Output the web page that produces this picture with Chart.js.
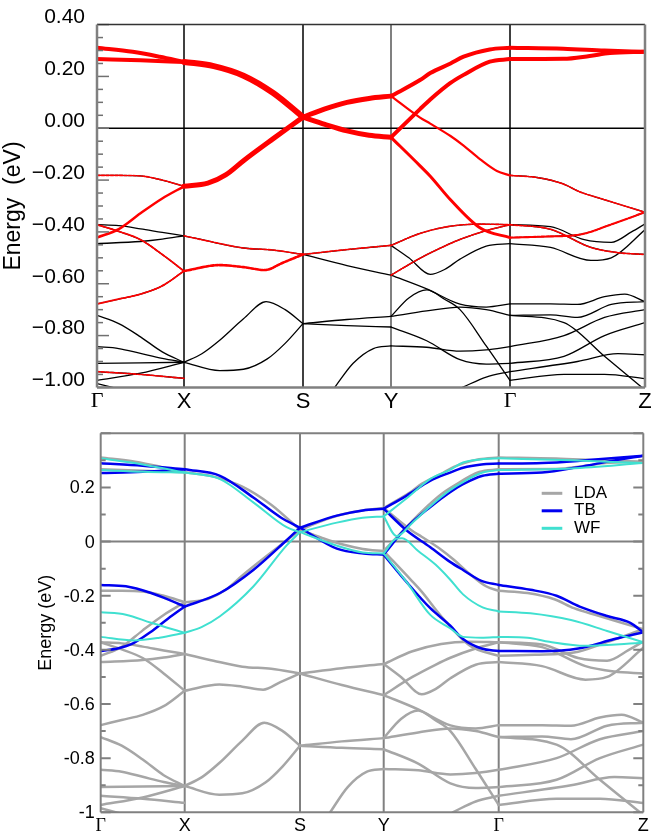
<!DOCTYPE html>
<html>
<head>
<meta charset="utf-8">
<title>Band structure</title>
<script src="https://cdn.jsdelivr.net/npm/chart.js@4.4.1/dist/chart.umd.min.js"></script>
<style>
  body { margin: 0; background: #fff; }
  canvas { position: absolute; left: 0; }
  #topChart { top: 0; }
  #bottomChart { top: 412px; }
</style>
</head>
<body>
<canvas id="topChart" width="654" height="412"></canvas>
<canvas id="bottomChart" width="654" height="423"></canvas>
<script>
// high-symmetry path
const kLabels = ['Γ', 'X', 'S', 'Y', 'Γ', 'Z'];
const kTop = [0, 87, 206, 294, 413, 548];
const kBottom = [0, 84, 199.3, 283, 398, 542.6];

const yTicksTop = [-1.0, -0.8, -0.6, -0.4, -0.2, 0.0, 0.2, 0.4];
const yTicksBottom = [-1, -0.8, -0.6, -0.4, -0.2, 0, 0.2];

const seriesNames = ['LDA', 'TB', 'WF'];

// bands are lists of [s, E]; s = path position (0 = Γ, 1 = X, 2 = S, 3 = Y, 4 = Γ, 5 = Z)
// LDA bands close to the Fermi level (fat bands in the upper panel)
const ldaNear = [
    [[0, 0.311], [0.41, 0.295], [0.72, 0.276], [1, 0.256]],
    [[0, 0.267], [0.5, 0.262], [1, 0.256]],
    [[0, -0.182], [0.25, -0.182], [0.5, -0.184], [0.75, -0.200], [1, -0.224]],
    [[0, -0.422], [0.25, -0.389], [0.5, -0.328], [0.75, -0.271], [1, -0.224]],
    [[1, 0.256], [1.25, 0.240], [1.5, 0.203], [1.75, 0.136], [2, 0.043]],
    [[1, -0.224], [1.2, -0.212], [1.35, -0.18], [1.5, -0.125], [1.75, -0.04], [2, 0.043]],
    [[2, 0.043], [2.25, 0.075], [2.5, 0.100], [2.75, 0.115], [3, 0.124]],
    [[2, 0.043], [2.25, 0.015], [2.5, -0.010], [2.75, -0.027], [3, -0.035]],
    [[3, 0.124], [3.244, 0.186], [3.33, 0.213], [3.5, 0.25], [3.61, 0.276], [3.83, 0.304], [4, 0.311]],
    [[3, -0.035], [3.244, 0.074], [3.33, 0.111], [3.5, 0.175], [3.61, 0.206], [3.83, 0.257], [4, 0.267]],
    [[3, 0.124], [3.244, 0.041], [3.33, 0.018], [3.5, -0.03], [3.61, -0.067], [3.75, -0.12], [3.89, -0.165], [4, -0.182]],
    [[3, -0.035], [3.244, -0.145], [3.33, -0.185], [3.5, -0.276], [3.75, -0.385], [4, -0.422]],
    [[4, 0.311], [4.395, 0.307], [4.7, 0.300], [5, 0.295]],
    [[4, 0.267], [4.395, 0.268], [4.59, 0.279], [4.74, 0.290], [5, 0.295]],
    [[4, -0.182], [4.2, -0.19], [4.39, -0.214], [4.52, -0.246], [4.69, -0.274], [4.85, -0.30], [5, -0.324]],
    [[4, -0.422], [4.25, -0.418], [4.52, -0.41], [4.74, -0.373], [5, -0.324]]
];
// orbital weight of each near band (upper panel)
const ldaNearWeight = [4, 4, 1, 2.5, 6, 5, 5, 5, 4, 4, 2.2, 3, 4, 4, 1, 1.5];

// deeper LDA bands
const ldaDeep = [
    // Γ–X
    [[0, -0.372], [0.25, -0.376], [0.5, -0.388], [0.75, -0.402], [1, -0.415]],
    [[0, -0.372], [0.25, -0.398], [0.5, -0.430], [0.75, -0.487], [1, -0.551]],
    [[0, -0.445], [0.5, -0.437], [0.75, -0.428], [1, -0.415]],
    [[0, -0.678], [0.25, -0.659], [0.5, -0.640], [0.75, -0.608], [1, -0.551]],
    [[0, -0.722], [0.25, -0.754], [0.5, -0.805], [0.75, -0.863], [1, -0.903]],
    [[0, -0.843], [0.25, -0.850], [0.5, -0.869], [0.75, -0.888], [1, -0.903]],
    [[0, -0.907], [0.5, -0.905], [1, -0.903]],
    [[0, -0.939], [0.5, -0.95], [1, -0.965]],
    [[0, -0.973], [0.5, -0.945], [1, -0.903]],
    [[0, -0.985], [0.3, -1.01]],
    // X–S
    [[1, -0.415], [1.25, -0.44], [1.5, -0.462], [1.75, -0.470], [2, -0.487]],
    [[1, -0.551], [1.3, -0.528], [1.5, -0.536], [1.68, -0.547], [1.83, -0.519], [2, -0.487]],
    [[1, -0.903], [1.15, -0.87], [1.3, -0.818], [1.5, -0.735], [1.69, -0.669], [1.85, -0.70], [2, -0.754]],
    [[1, -0.903], [1.3, -0.935], [1.5, -0.93], [1.7, -0.89], [1.85, -0.83], [2, -0.754]],
    // S–Y
    [[2, -0.487], [2.5, -0.468], [3, -0.452]],
    [[2, -0.487], [2.5, -0.53], [3, -0.567]],
    [[2, -0.754], [2.5, -0.738], [3, -0.726]],
    [[2, -0.754], [2.5, -0.762], [3, -0.767]],
    [[2.36, -1.0], [2.57, -0.907], [2.8, -0.850], [3, -0.840]],
    // Y–Γ
    [[3, -0.452], [3.25, -0.405], [3.5, -0.378], [3.75, -0.370], [4, -0.372]],
    [[3, -0.452], [3.15, -0.5], [3.33, -0.564], [3.45, -0.545], [3.58, -0.505], [3.8, -0.455], [4, -0.445]],
    [[3, -0.567], [3.25, -0.50], [3.45, -0.455], [3.58, -0.429], [3.8, -0.395], [4, -0.372]],
    [[3, -0.567], [3.3, -0.62], [3.58, -0.679], [3.8, -0.69], [4, -0.678]],
    [[3, -0.726], [3.15, -0.655], [3.3, -0.624], [3.45, -0.66], [3.58, -0.70], [3.8, -0.84], [4, -0.973]],
    [[3, -0.726], [3.3, -0.705], [3.58, -0.69], [3.8, -0.70], [4, -0.722]],
    [[3, -0.767], [3.3, -0.82], [3.58, -0.893], [3.8, -0.91], [4, -0.907]],
    [[3, -0.840], [3.3, -0.845], [3.58, -0.86], [3.8, -0.855], [4, -0.843]],
    [[3.6, -1.0], [3.8, -0.96], [4, -0.939]],
    // Γ–Z
    [[4, -0.372], [4.3, -0.38], [4.55, -0.43], [4.75, -0.44], [4.9, -0.40], [5, -0.369]],
    [[4, -0.372], [4.3, -0.39], [4.6, -0.46], [4.8, -0.48], [5, -0.487]],
    [[4, -0.445], [4.3, -0.46], [4.6, -0.51], [4.75, -0.50], [5, -0.392]],
    [[4, -0.678], [4.3, -0.678], [4.5, -0.68], [4.7, -0.65], [4.85, -0.64], [5, -0.669]],
    [[4, -0.722], [4.3, -0.72], [4.5, -0.73], [4.75, -0.68], [5, -0.669]],
    [[4, -0.843], [4.4, -0.80], [4.7, -0.73], [5, -0.70]],
    [[4, -0.907], [4.4, -0.88], [4.7, -0.80], [5, -0.75]],
    [[4, -0.939], [4.5, -0.90], [4.8, -0.87], [5, -0.874]],
    [[4, -0.973], [4.4, -0.95], [4.7, -0.95], [5, -0.966]],
    [[4, -0.722], [4.4, -0.75], [4.7, -0.88], [5, -1.01]]
];
// deep bands that carry a small red weight in the upper panel, and that weight
const ldaDeepRed = [1, 3, 7, 10, 11, 14, 19, 21, 29];
const ldaDeepRedWeight = [1.8, 1.8, 1.6, 1.6, 2.6, 1.6, 1.6, 1.6, 1.6];

// tight-binding bands
const tbBands = [
    [[0, 0.289], [0.5, 0.28], [1, 0.267]],
    [[0, 0.253], [0.5, 0.258], [1, 0.267]],
    [[0, -0.160], [0.3, -0.165], [0.6, -0.19], [0.85, -0.22], [1, -0.24]],
    [[0, -0.404], [0.2, -0.395], [0.39, -0.375], [0.59, -0.335], [0.8, -0.285], [1, -0.24]],
    [[1, 0.267], [1.306, 0.243], [1.595, 0.163], [1.83, 0.09], [2, 0.051]],
    [[1, -0.24], [1.306, -0.19], [1.595, -0.105], [1.884, 0.005], [2, 0.051]],
    [[2, 0.051], [2.44, 0.096], [2.75, 0.115], [3, 0.121]],
    [[2, 0.051], [2.44, -0.026], [2.76, -0.044], [3, -0.048]],
    [[3, 0.121], [3.2, 0.17], [3.403, 0.224], [3.577, 0.255], [3.69, 0.273], [3.85, 0.285], [4, 0.288]],
    [[3, -0.048], [3.2, 0.053], [3.403, 0.127], [3.577, 0.182], [3.69, 0.212], [3.86, 0.243], [4, 0.251]],
    [[3, 0.121], [3.2, 0.041], [3.403, -0.02], [3.577, -0.075], [3.69, -0.105], [3.85, -0.145], [4, -0.160]],
    [[3, -0.048], [3.2, -0.15], [3.403, -0.245], [3.577, -0.31], [3.69, -0.36], [3.85, -0.395], [4, -0.404]],
    [[4, 0.288], [4.3, 0.29], [4.6, 0.30], [5, 0.317]],
    [[4, 0.251], [4.3, 0.255], [4.55, 0.275], [4.8, 0.30], [5, 0.317]],
    [[4, -0.16], [4.22, -0.178], [4.4, -0.2], [4.56, -0.24], [4.75, -0.275], [4.91, -0.30], [5, -0.335]],
    [[4, -0.404], [4.3, -0.405], [4.55, -0.395], [4.8, -0.36], [5, -0.335]]
];

// Wannier-function bands
const wfBands = [
    [[0, 0.308], [0.5, 0.285], [1, 0.255]],
    [[0, 0.264], [0.5, 0.258], [1, 0.255]],
    [[0, -0.261], [0.3, -0.27], [0.6, -0.30], [1, -0.337]],
    [[0, -0.352], [0.39, -0.365], [0.7, -0.355], [1, -0.337]],
    [[1, 0.255], [1.306, 0.231], [1.595, 0.145], [1.884, 0.053], [2, 0.035]],
    [[1, -0.337], [1.15, -0.315], [1.306, -0.276], [1.595, -0.166], [1.884, -0.014], [2, 0.035]],
    [[2, 0.035], [2.44, 0.07], [2.75, 0.088], [3, 0.093]],
    [[2, 0.035], [2.44, -0.015], [2.75, -0.04], [3, -0.044]],
    [[3, 0.093], [3.2, 0.16], [3.403, 0.231], [3.577, 0.265], [3.69, 0.292], [3.85, 0.304], [4, 0.308]],
    [[3, -0.044], [3.113, 0.011], [3.16, 0.012], [3.3, -0.035], [3.45, -0.085], [3.577, -0.14], [3.69, -0.195], [3.86, -0.243], [4, -0.258]],
    [[3, 0.093], [3.113, 0.02], [3.25, 0.07], [3.403, 0.13], [3.577, 0.19], [3.69, 0.22], [3.86, 0.255], [4, 0.264]],
    [[3, -0.044], [3.2, -0.15], [3.403, -0.27], [3.577, -0.32], [3.69, -0.352], [3.85, -0.355], [4, -0.352]],
    [[4, 0.308], [4.5, 0.30], [5, 0.29]],
    [[4, 0.264], [4.5, 0.27], [5, 0.29]],
    [[4, -0.258], [4.22, -0.265], [4.5, -0.29], [4.75, -0.33], [5, -0.372]],
    [[4, -0.352], [4.2, -0.355], [4.35, -0.37], [4.6, -0.385], [5, -0.374]]
];

// path position -> x value on a panel's own k axis
const toXY = (band, kpos) => band.map(([s, e]) => {
    const i = Math.min(Math.floor(s), kpos.length - 2);
    const f = s - i;
    return { x: kpos[i] + f * (kpos[i + 1] - kpos[i]), y: e };
});

const line = (band, kpos, color, width, order, dash) => ({
    data: toXY(band, kpos),
    borderColor: color,
    borderWidth: width,
    borderDash: dash || [],
    order: order,
    fill: false
});

// axes frame, symmetry lines, zero line and inward ticks
const framePlugin = {
    id: 'frame',
    beforeDatasetsDraw(chart, args, o) {
        const { ctx, chartArea: a, scales: { x, y } } = chart;
        ctx.save();
        x.ticks.forEach((t, i) => {
            if (i === 0 || i === x.ticks.length - 1) return;
            const px = x.getPixelForValue(t.value);
            ctx.strokeStyle = o.vColors[i];
            ctx.lineWidth = o.vWidths[i];
            ctx.beginPath();
            ctx.moveTo(px, a.top);
            ctx.lineTo(px, a.bottom);
            ctx.stroke();
        });
        const p0 = y.getPixelForValue(0);
        ctx.strokeStyle = o.zeroColor;
        ctx.lineWidth = o.zeroWidth;
        ctx.beginPath();
        ctx.moveTo(a.left, p0);
        ctx.lineTo(a.right, p0);
        ctx.stroke();
        ctx.restore();
    },
    afterDatasetsDraw(chart, args, o) {
        const { ctx, chartArea: a, scales: { y } } = chart;
        ctx.save();
        const n = Math.round((y.max - y.min) / o.minor);
        ctx.strokeStyle = o.tickColor;
        ctx.lineWidth = o.tickWidth;
        for (let i = 0; i <= n; i++) {
            const v = y.min + i * o.minor;
            const py = y.getPixelForValue(v);
            const major = Math.abs(v / o.major - Math.round(v / o.major)) < 1e-6;
            const len = major ? o.majorLen : o.minorLen;
            ctx.beginPath();
            ctx.moveTo(a.left, py);
            ctx.lineTo(a.left + len, py);
            if (o.rightTicks) {
                ctx.moveTo(a.right, py);
                ctx.lineTo(a.right - len, py);
            }
            ctx.stroke();
        }
        const side = (c, w, x1, y1, x2, y2) => {
            ctx.strokeStyle = c;
            ctx.lineWidth = w;
            ctx.beginPath();
            ctx.moveTo(x1, y1);
            ctx.lineTo(x2, y2);
            ctx.stroke();
        };
        side(o.top[0], o.top[1], a.left, a.top, a.right, a.top);
        side(o.right[0], o.right[1], a.right, a.top, a.right, a.bottom);
        side(o.bottom[0], o.bottom[1], a.left, a.bottom, a.right, a.bottom);
        side(o.left[0], o.left[1], a.left, a.top, a.left, a.bottom);
        ctx.restore();
    }
};

// legend drawn inside the plot area
const legendPlugin = {
    id: 'bandLegend',
    afterDraw(chart, args, o) {
        if (!o || !o.items) return;
        const { ctx, chartArea: a } = chart;
        ctx.save();
        o.items.forEach((it, i) => {
            const y = a.top + o.top + i * o.step;
            const x0 = a.right - o.right;
            ctx.strokeStyle = it.color;
            ctx.lineWidth = it.width;
            ctx.beginPath();
            ctx.moveTo(x0, y);
            ctx.lineTo(x0 + o.len, y);
            ctx.stroke();
            ctx.fillStyle = '#000';
            ctx.font = o.font;
            ctx.textBaseline = 'middle';
            ctx.fillText(it.label, x0 + o.len + o.gap, y);
        });
        ctx.restore();
    }
};

function bandChart(id, c) {
    return new Chart(document.getElementById(id), {
        type: 'line',
        data: { datasets: c.datasets },
        options: {
            responsive: false,
            animation: false,
            events: [],
            layout: { padding: c.padding },
            elements: {
                point: { radius: 0 },
                line: { cubicInterpolationMode: 'monotone', borderCapStyle: 'round', borderJoinStyle: 'round' }
            },
            plugins: {
                legend: { display: false },
                tooltip: { enabled: false },
                frame: c.frame,
                bandLegend: c.legend || false
            },
            scales: {
                x: {
                    type: 'linear',
                    min: 0,
                    max: c.k[c.k.length - 1],
                    afterBuildTicks: s => { s.ticks = c.k.map(v => ({ value: v })); },
                    afterFit: s => { s.height = c.xHeight; },
                    grid: { display: false, drawTicks: false },
                    border: { display: false },
                    ticks: {
                        autoSkip: false,
                        maxRotation: 0,
                        padding: c.xPad,
                        color: '#000',
                        font: ctx => ({
                            family: kLabels[ctx.index] === 'Γ' ? 'Liberation Serif' : 'Liberation Sans',
                            size: c.xFont
                        }),
                        callback: (v, i) => kLabels[i]
                    }
                },
                y: {
                    min: -1,
                    max: 0.4,
                    afterBuildTicks: s => { s.ticks = c.yTicks.map(v => ({ value: v })); },
                    afterFit: s => { s.width = c.yWidth; },
                    grid: { display: false, drawTicks: false },
                    border: { display: false },
                    ticks: {
                        padding: c.yPad,
                        labelOffset: c.yLabelOffset,
                        color: '#000',
                        font: { family: 'Liberation Sans', size: c.yFont },
                        callback: c.yFormat
                    },
                    title: {
                        display: true,
                        text: c.title,
                        color: '#000',
                        font: { family: 'Liberation Sans', size: c.titleFont },
                        padding: { top: c.titlePad, bottom: 0 }
                    }
                }
            }
        },
        plugins: [framePlugin, legendPlugin]
    });
}

// upper panel: LDA with orbital weights
const topSets = [];
ldaDeep.forEach((b, i) => {
    topSets.push(line(b, kTop, '#000000', 1.3, 3));
    const r = ldaDeepRed.indexOf(i);
    if (r >= 0) topSets.push(line(b, kTop, '#ff0000', ldaDeepRedWeight[r], 2, [3, 1.5]));
});
ldaNear.forEach((b, i) => {
    const w = ldaNearWeight[i];
    if (w <= 1.5) {
        topSets.push(line(b, kTop, '#000000', 1.3, 3));
        topSets.push(line(b, kTop, '#ff0000', w + 0.6, 2, [3, 1.5]));
    } else {
        topSets.push(line(b, kTop, '#ff0000', w, 1));
    }
});

bandChart('topChart', {
    datasets: topSets,
    k: kTop,
    padding: { top: 21, right: 9, left: 0, bottom: 0 },
    xHeight: 24, xPad: 1, xFont: 22,
    yTicks: yTicksTop, yWidth: 97, yPad: 12, yLabelOffset: -7, yFont: 21,
    yFormat: v => (v < 0 ? '\u2212' : '') + Math.abs(v).toFixed(2),
    title: 'Energy  (eV)', titleFont: 23, titlePad: 0,
    frame: {
        vColors: ['', '#000', '#000', '#808080', '#000', ''],
        vWidths: [0, 1.5, 1.5, 2, 1.5, 0],
        zeroColor: '#000', zeroWidth: 1.5,
        minor: 0.05, major: 0.2, majorLen: 12, minorLen: 6,
        tickColor: '#707070', tickWidth: 1.5, rightTicks: false,
        top: ['#333333', 1.5], right: ['#808080', 2.5], bottom: ['#808080', 2.5], left: ['#808080', 2.5]
    }
});

// lower panel: LDA vs TB vs WF
const bottomColors = ['#a6a6a6', '#0000f0', '#40e0d0'];
const bottomWidths = [2.5, 2.5, 2];
const bottomSets = [];
ldaDeep.concat(ldaNear).forEach(b => bottomSets.push(line(b, kBottom, bottomColors[0], bottomWidths[0], 3)));
tbBands.forEach(b => bottomSets.push(line(b, kBottom, bottomColors[1], bottomWidths[1], 2)));
wfBands.forEach(b => bottomSets.push(line(b, kBottom, bottomColors[2], bottomWidths[2], 1)));

bandChart('bottomChart', {
    datasets: bottomSets,
    k: kBottom,
    padding: { top: 21.3, right: 10.7, left: 0, bottom: 0 },
    xHeight: 22.7, xPad: 3, xFont: 18,
    yTicks: yTicksBottom, yWidth: 100.7, yPad: 6, yLabelOffset: 1, yFont: 18,
    yFormat: v => String(Math.round(v * 10) / 10),
    title: 'Energy (eV)', titleFont: 18, titlePad: 35,
    frame: {
        vColors: ['', '#808080', '#808080', '#808080', '#808080', ''],
        vWidths: [0, 2, 2, 2, 2, 0],
        zeroColor: '#808080', zeroWidth: 2,
        minor: 0.1, major: 0.2, majorLen: 10, minorLen: 5,
        tickColor: '#808080', tickWidth: 2, rightTicks: true,
        top: ['#808080', 2], right: ['#808080', 2], bottom: ['#808080', 2], left: ['#808080', 2]
    },
    legend: {
        items: seriesNames.map((n, i) => ({ label: n, color: bottomColors[i], width: 3 })),
        top: 60, step: 17.5, right: 101.6, len: 20.6, gap: 11.7,
        font: '17px "Liberation Sans"'
    }
});
</script>
</body>
</html>
